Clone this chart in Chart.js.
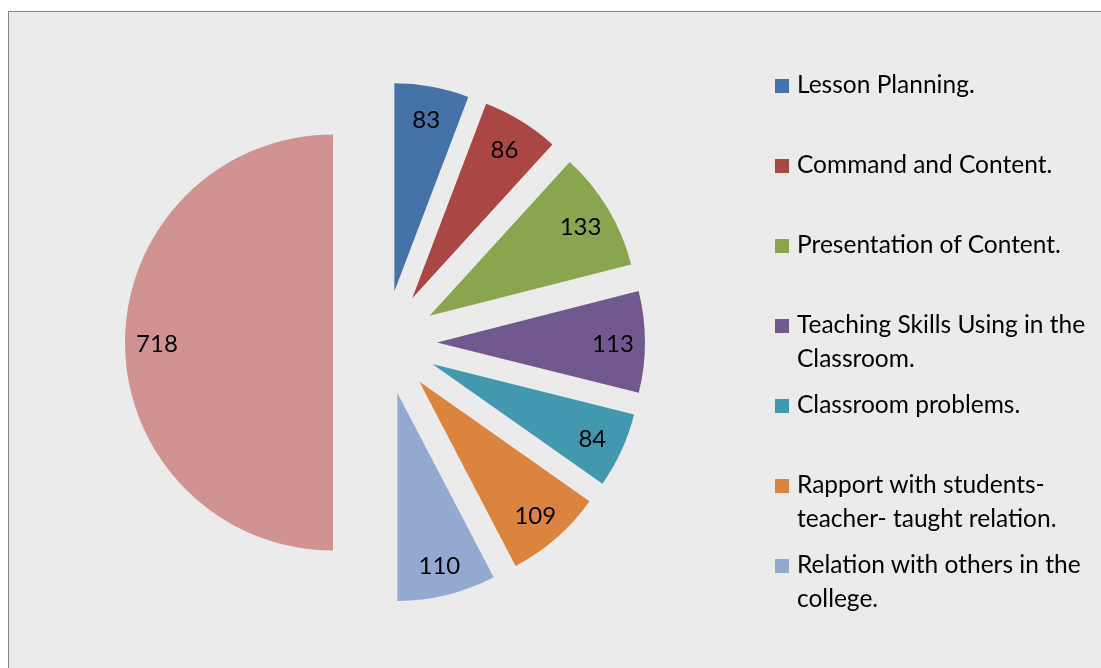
<!DOCTYPE html>
<html>
<head>
<meta charset="utf-8">
<title>Exploded pie</title>
<script src="https://cdn.jsdelivr.net/npm/chart.js@4.4.1/dist/chart.umd.min.js"></script>
<style>
    html, body {
        margin: 0;
        padding: 0;
        width: 1101px;
        height: 668px;
        overflow: hidden;
        background: #fff;
        font-family: Lato, 'Open Sans', sans-serif;
    }
    .frame {
        position: absolute;
        left: 8px;
        top: 11px;
        width: 1110px;
        height: 680px;
        border: 1px solid #868686;
        background: #ebebeb;
    }
    .chart-wrap {
        position: absolute;
        left: 0;
        top: 0;
        width: 1101px;
        height: 668px;
    }
    .legend-item {
        position: absolute;
        left: 775px;
        width: 320px;
        font-size: 24.5px;
        line-height: 34px;
        color: #000;
        white-space: nowrap;
    }
    .legend-item .swatch {
        position: absolute;
        left: 0;
        top: 12.5px;
        width: 14px;
        height: 14px;
    }
    .legend-item .text {
        margin-left: 22px;
    }
</style>
</head>
<body>
<div class="frame"></div>
<div class="chart-wrap"><canvas id="chart"></canvas></div>
<div id="legend"></div>

<script>
const categories = [
    ['Lesson Planning.'],
    ['Command and Content.'],
    ['Presentation of Content.'],
    ['Teaching Skills Using in the', 'Classroom.'],
    ['Classroom problems.'],
    ['Rapport with students-', 'teacher- taught relation.'],
    ['Relation with others in the', 'college.'],
    ['Total'],
];
const counts = [83, 86, 133, 113, 84, 109, 110, 718];
const sliceColors = ['#4572A7', '#AA4643', '#89A54E', '#71588F', '#4198AF', '#DB843D', '#93A9CF', '#D19392'];
// the total slice is drawn but has no legend entry
const legendSkip = [7];

const EXPLODE = 52;
const LABEL_RADIUS = 176;

// Chart.js' own `offset` also grows the radius, so push each slice out ourselves
class ExplodedArc extends Chart.ArcElement {
    static id = 'explodedArc';

    draw(ctx) {
        const mid = (this.startAngle + this.endAngle) / 2;
        ctx.save();
        ctx.translate(Math.cos(mid) * EXPLODE, Math.sin(mid) * EXPLODE);
        super.draw(ctx);
        ctx.restore();
    }
}

class ExplodedPieController extends Chart.PieController {
    static id = 'explodedPie';
    static defaults = { dataElementType: 'explodedArc' };
}

Chart.register(ExplodedArc, ExplodedPieController);

const sliceLabels = {
    id: 'sliceLabels',
    afterDatasetsDraw(chart) {
        const { ctx } = chart;
        const meta = chart.getDatasetMeta(0);
        const values = chart.data.datasets[0].data;

        ctx.save();
        ctx.font = '24px Lato, "Open Sans", sans-serif';
        ctx.fillStyle = '#000';
        ctx.textAlign = 'center';
        ctx.textBaseline = 'middle';
        meta.data.forEach((arc, i) => {
            const mid = (arc.startAngle + arc.endAngle) / 2;
            const r = EXPLODE + LABEL_RADIUS;
            ctx.fillText(String(values[i]), arc.x + Math.cos(mid) * r, arc.y + Math.sin(mid) * r + 2);
        });
        ctx.restore();
    },
};

new Chart(document.getElementById('chart'), {
    type: 'explodedPie',
    data: {
        labels: categories,
        datasets: [{
            data: counts,
            backgroundColor: sliceColors,
            borderWidth: 0,
        }],
    },
    options: {
        responsive: true,
        maintainAspectRatio: false,
        animation: false,
        events: [],
        radius: 208,
        layout: { padding: { left: 20, right: 351, top: 30, bottom: 13 } },
        plugins: {
            legend: { display: false },
            tooltip: { enabled: false },
        },
    },
    plugins: [sliceLabels],
});

const legend = document.getElementById('legend');
let slot = 0;
categories.forEach((lines, i) => {
    if (legendSkip.includes(i)) return;
    const item = document.createElement('div');
    item.className = 'legend-item';
    item.style.top = (66.5 + slot * 80) + 'px';
    item.innerHTML = `<span class="swatch" style="background:${sliceColors[i]}"></span>`
        + `<div class="text">${lines.join('<br>')}</div>`;
    legend.appendChild(item);
    slot++;
});
</script>
</body>
</html>
